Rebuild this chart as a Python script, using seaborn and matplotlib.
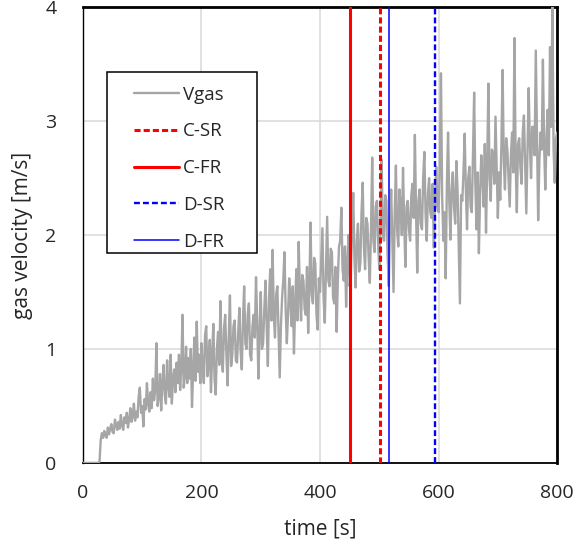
import numpy as np
import pandas as pd
import matplotlib
matplotlib.use("Agg")
import matplotlib.pyplot as plt
from matplotlib.patches import Rectangle
import seaborn as sns

# gas velocity, one value every 2 s (0 ... 800 s)
time_s = np.arange(0, 801, 2)
vgas = [
    0, 0, 0, 0, 0, 0, 0, 0, 0, 0,
    0, 0, 0, 0, 0.01, 0.20, 0.26, 0.22, 0.28, 0.24,
    0.22, 0.31, 0.25, 0.30, 0.34, 0.27, 0.26, 0.38, 0.33, 0.29,
    0.36, 0.30, 0.42, 0.33, 0.29, 0.40, 0.35, 0.44, 0.31, 0.38,
    0.48, 0.36, 0.41, 0.52, 0.37, 0.45, 0.40, 0.58, 0.66, 0.44,
    0.50, 0.32, 0.56, 0.47, 0.70, 0.52, 0.45, 0.62, 0.48, 0.74,
    0.55, 0.64, 1.05, 0.50, 0.58, 0.78, 0.46, 0.70, 0.86, 0.60,
    0.52, 0.90, 0.68, 0.58, 0.95, 0.52, 0.74, 0.82, 0.62, 0.88,
    0.70, 0.95, 0.64, 0.84, 1.30, 0.66, 0.76, 1.02, 0.70, 0.92,
    0.74, 1.00, 0.49, 0.82, 1.10, 0.72, 1.24, 0.80, 0.95, 0.70,
    1.05, 0.84, 0.70, 1.12, 1.20, 0.76, 0.85, 1.08, 0.62, 0.95,
    1.22, 0.74, 0.60, 1.00, 1.15, 0.86, 1.42, 0.92, 0.80, 1.18,
    1.30, 0.96, 0.68, 1.10, 1.47, 0.85, 0.95, 1.20, 1.25, 0.90,
    0.88, 1.15, 1.36, 0.98, 0.82, 1.25, 1.55, 1.05, 1.00, 1.30,
    1.40, 0.95, 0.90, 1.20, 1.30, 1.10, 1.63, 1.25, 0.74, 1.15,
    1.50, 1.00, 1.05, 1.35, 1.60, 1.20, 0.85, 1.45, 1.70, 1.25,
    1.87, 1.30, 1.10, 1.48, 1.55, 1.15, 0.75, 1.20, 1.45, 1.60,
    1.85, 1.35, 1.05, 1.30, 1.62, 1.42, 1.20, 1.55, 0.96, 1.38,
    1.70, 1.25, 1.94, 1.50, 1.25, 1.65, 1.60, 1.35, 1.30, 1.72,
    1.14, 1.55, 2.11, 1.48, 1.40, 1.80, 1.75, 1.30, 1.17, 1.62,
    1.50, 1.78, 2.06, 1.45, 1.23, 1.70, 2.16, 1.60, 1.55, 1.88,
    1.85, 1.45, 1.40, 1.72, 1.15, 1.60, 1.90, 1.95, 2.24, 1.70,
    1.60, 1.90, 1.37, 1.75, 2.00, 1.55, 1.65, 2.05, 2.37, 1.80,
    1.54, 1.95, 2.10, 1.68, 1.75, 2.20, 2.46, 1.90, 1.70, 2.15,
    2.10, 1.80, 1.58, 2.05, 2.68, 1.95, 1.85, 2.25, 2.30, 1.92,
    1.70, 2.15, 2.66, 2.00, 1.95, 2.35, 2.30, 1.82, 1.55, 2.10,
    2.40, 1.95, 1.50, 2.20, 2.61, 2.05, 1.90, 2.40, 2.25, 2.00,
    2.59, 2.10, 1.72, 2.25, 2.30, 2.05, 1.95, 2.35, 2.45, 2.15,
    2.88, 2.20, 1.67, 2.30, 2.40, 2.10, 2.05, 2.50, 2.73, 2.20,
    1.95, 2.35, 2.50, 2.20, 2.15, 2.45, 1.89, 2.30, 2.60, 2.25,
    2.20, 2.60, 3.42, 2.35, 1.95, 2.20, 1.62, 2.45, 2.90, 2.30,
    1.96, 2.40, 2.55, 2.25, 2.10, 2.65, 2.40, 1.90, 1.40, 2.35,
    2.30, 2.55, 2.89, 2.40, 2.05, 2.50, 2.60, 2.25, 2.20, 2.70,
    3.25, 2.45, 2.05, 2.55, 1.84, 2.35, 2.70, 2.50, 2.25, 2.80,
    2.02, 2.60, 3.33, 2.50, 2.30, 2.75, 2.70, 2.45, 3.04, 2.60,
    2.15, 2.55, 2.31, 2.80, 3.45, 2.65, 2.40, 2.85, 2.75, 2.50,
    2.25, 2.70, 2.90, 2.55, 3.73, 2.65, 2.20, 2.80, 2.85, 2.60,
    2.45, 2.90, 3.05, 2.60, 2.19, 2.75, 3.29, 2.80, 2.50, 2.95,
    2.95, 2.70, 3.62, 2.85, 2.13, 2.65, 2.90, 2.75, 3.54, 2.80,
    2.40, 2.85, 3.10, 2.70, 3.65, 2.95, 4.00, 2.75, 2.46, 2.85,
    2.90,
]

# regime transition times [s]
marker_names = ["C-SR", "C-FR", "D-SR", "D-FR"]
marker_times = [501, 451, 594, 517]
marker_colors = ["#ff0000", "#ff0000", "#0000ff", "#0000ff"]
marker_styles = ["dashed", "solid", "dashed", "solid"]
marker_widths = [2.2, 2.2, 1.7, 1.1]

df = pd.DataFrame({"time": time_s, "Vgas": vgas})

sns.set_style("white")
plt.rcParams["font.family"] = ["Open Sans", "DejaVu Sans"]

fig = plt.figure(figsize=(5.84, 5.57), dpi=100)
ax = fig.add_axes([0.142, 0.169, 0.812, 0.818])

sns.lineplot(data=df, x="time", y="Vgas", color="#a6a6a6", lw=1.7,
             label="Vgas", ax=ax, zorder=3)

for name, t, c, ls, w in zip(marker_names, marker_times, marker_colors,
                             marker_styles, marker_widths):
    line = ax.axvline(t, color=c, lw=w, label=name, zorder=4)
    if ls == "dashed":
        line.set_dashes((2, 1) if w > 2 else (2.5, 1.3))

ax.set_xlim(0, 800)
ax.set_ylim(0, 4)
ax.set_xticks([0, 200, 400, 600, 800])
ax.set_yticks([0, 1, 2, 3, 4])
ax.grid(True, color="#d9d9d9", lw=1.1)
ax.set_axisbelow(True)
ax.tick_params(length=0, labelsize=14)
ax.tick_params(axis="x", pad=15)
ax.tick_params(axis="y", pad=19)
ax.set_xlabel("time [s]", fontsize=15, labelpad=12)
ax.set_ylabel("gas velocity [m/s]", fontsize=15, labelpad=9)

for side, w in [("top", 2.0), ("right", 2.0), ("left", 1.0), ("bottom", 1.3)]:
    ax.spines[side].set_visible(True)
    ax.spines[side].set_color("black")
    ax.spines[side].set_linewidth(w)

# legend box (drawn separately so its padding can follow the reference)
ax.add_patch(Rectangle((0.0506, 0.4605), 0.3165, 0.3965, transform=ax.transAxes,
                       facecolor="white", edgecolor="black", lw=1.1,
                       zorder=5, clip_on=False))
leg = ax.legend(loc="upper left", bbox_to_anchor=(0.1076, 0.828),
                borderaxespad=0, borderpad=0, fontsize=13.5, handlelength=2.4,
                labelspacing=1.0, frameon=False, handletextpad=0.2)
leg.set_zorder(6)

fig.savefig("out.png", dpi=100)
